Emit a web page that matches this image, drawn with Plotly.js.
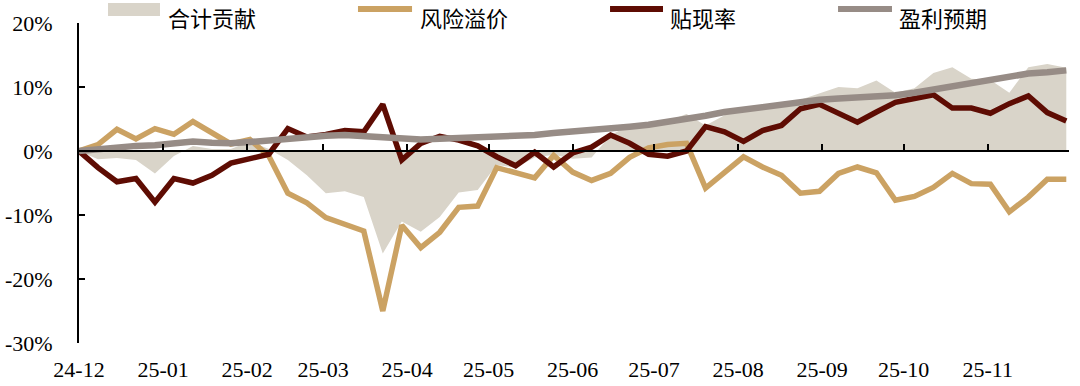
<!DOCTYPE html>
<html>
<head>
<meta charset="utf-8">
<script src="https://cdn.plot.ly/plotly-3.0.1.min.js"></script>
<style>html,body{margin:0;padding:0;background:#fff}#chart{width:1080px;height:386px}</style>
</head>
<body>
<div id="chart"></div>
<script>
// Weekly observation dates
const weeks = [
 '2024-12-01','2024-12-08','2024-12-15','2024-12-22','2024-12-29',
 '2025-01-05','2025-01-12','2025-01-19','2025-01-26','2025-02-02',
 '2025-02-09','2025-02-16','2025-02-23','2025-03-02','2025-03-09',
 '2025-03-16','2025-03-23','2025-03-30','2025-04-06','2025-04-13',
 '2025-04-20','2025-04-27','2025-05-04','2025-05-11','2025-05-18',
 '2025-05-25','2025-06-01','2025-06-08','2025-06-15','2025-06-22',
 '2025-06-29','2025-07-06','2025-07-13','2025-07-20','2025-07-27',
 '2025-08-03','2025-08-10','2025-08-17','2025-08-24','2025-08-31',
 '2025-09-07','2025-09-14','2025-09-21','2025-09-28','2025-10-05',
 '2025-10-12','2025-10-19','2025-10-26','2025-11-02','2025-11-09',
 '2025-11-16','2025-11-23','2025-11-30'
];

// 合计贡献 (%)
const totalContribution = [
 0, -1.3, -1.1, -1.4, -3.5, -0.8, 0.8, 0.3, 0.3, 1.5,
 0.3, -1.4, -3.8, -6.6, -6.3, -7.2, -16.0, -11.0, -12.6, -10.3,
 -6.5, -6.1, -2.2, -2.6, -1.0, -0.6, -1.2, -1.0, 2.5, 4.0,
 4.1, 4.7, 5.8, 4.0, 5.6, 6.8, 7.0, 7.0, 8.0, 9.0,
 10.0, 9.8, 11.0, 9.1, 9.8, 12.2, 13.1, 11.3, 11.1, 9.1,
 13.1, 13.6, 13.0
];

// 风险溢价 (%)
const riskPremium = [
 0, 1.0, 3.4, 1.9, 3.5, 2.6, 4.6, 2.9, 1.1, 1.8,
 -0.8, -6.6, -8.1, -10.4, -11.5, -12.5, -25.0, -11.6, -15.1, -12.7,
 -8.8, -8.6, -2.6, -3.3, -4.2, -0.7, -3.3, -4.6, -3.5, -1.0,
 0.5, 1.0, 1.2, -5.8, -3.3, -0.9, -2.5, -3.8, -6.6, -6.3,
 -3.5, -2.5, -3.4, -7.7, -7.1, -5.7, -3.5, -5.1, -5.2, -9.5,
 -7.2, -4.4, -4.4
];

// 贴现率 (%)
const discountRate = [
 0, -2.6, -4.8, -4.3, -8.0, -4.3, -5.0, -3.8, -1.9, -1.2,
 -0.5, 3.5, 2.2, 2.6, 3.2, 3.0, 7.3, -1.4, 1.2, 2.3,
 1.7, 0.8, -0.9, -2.3, -0.2, -2.5, -0.3, 0.6, 2.5, 1.2,
 -0.5, -0.8, 0.0, 3.8, 3.0, 1.5, 3.2, 4.0, 6.6, 7.3,
 5.8, 4.5, 6.1, 7.6, 8.2, 8.8, 6.7, 6.7, 5.9, 7.4,
 8.6, 6.0, 4.7
];

// 盈利预期 (%)
const earningsExpectation = [
 0, 0.3, 0.6, 0.8, 0.9, 1.2, 1.5, 1.3, 1.2, 1.4,
 1.7, 2.0, 2.2, 2.4, 2.5, 2.3, 2.2, 1.8, 1.8, 1.9,
 2.0, 2.1, 2.2, 2.3, 2.5, 2.8, 3.0, 3.3, 3.5, 3.8,
 4.1, 4.5, 5.0, 5.5, 6.1, 6.5, 6.9, 7.2, 7.6, 8.0,
 8.2, 8.3, 8.5, 8.7, 9.1, 9.6, 10.2, 10.7, 11.1, 11.6,
 12.1, 12.3, 12.6
];

const seriesNames = ['合计贡献', '风险溢价', '贴现率', '盈利预期'];
const monthTickVals = ['2024-12-01','2025-01-01','2025-02-01','2025-03-01','2025-04-01','2025-05-01',
  '2025-06-01','2025-07-01','2025-08-01','2025-09-01','2025-10-01','2025-11-01','2025-12-01'];
const monthTickText = ['24-12','25-01','25-02','25-03','25-04','25-05','25-06','25-07','25-08','25-09','25-10','25-11',''];
const yTickVals = [-30, -20, -10, 0, 10, 20];
const yTickText = ['-30%', '-20%', '-10%', '0%', '10%', '20%'];

const C_AREA = '#D9D4C9';
const C_TAN = '#CBA263';
const C_BROWN = '#5E0C03';
const C_GRAY = '#978C86';

const traces = [
  {x: weeks, y: totalContribution, name: seriesNames[0], type: 'scatter', mode: 'lines',
   fill: 'tozeroy', fillcolor: C_AREA, line: {width: 0, color: C_AREA}},
  {x: weeks, y: riskPremium, name: seriesNames[1], type: 'scatter', mode: 'lines',
   line: {width: 5.5, color: C_TAN}},
  {x: weeks, y: discountRate, name: seriesNames[2], type: 'scatter', mode: 'lines',
   line: {width: 5.5, color: C_BROWN}},
  {x: weeks, y: earningsExpectation, name: seriesNames[3], type: 'scatter', mode: 'lines',
   line: {width: 6.5, color: C_GRAY}}
];

// Legend drawn in paper coordinates
const legendFont = {family: '"Noto Sans CJK SC", "Noto Sans", sans-serif', size: 22, color: '#000'};
const lgTextX = [0.0879, 0.3424, 0.5949, 0.8263];
const lgY = 1.019;
const annotations = seriesNames.map((n, i) => ({
  xref: 'paper', yref: 'paper', x: lgTextX[i], y: lgY, xanchor: 'left', yanchor: 'middle',
  text: n, showarrow: false, font: legendFont
}));
const shapes = [
  {type: 'rect', xref: 'paper', yref: 'paper', x0: 0.0293, x1: 0.0818, y0: 1.022, y1: 1.0625,
   fillcolor: C_AREA, line: {width: 0}},
  {type: 'line', xref: 'paper', yref: 'paper', x0: 0.2818, x1: 0.3364, y0: 1.044, y1: 1.044,
   line: {width: 6, color: C_TAN}},
  {type: 'line', xref: 'paper', yref: 'paper', x0: 0.5364, x1: 0.5899, y0: 1.044, y1: 1.044,
   line: {width: 6, color: C_BROWN}},
  {type: 'line', xref: 'paper', yref: 'paper', x0: 0.7667, x1: 0.8212, y0: 1.044, y1: 1.044,
   line: {width: 6, color: C_GRAY}}
];

const tickFont = {family: '"Liberation Serif", "Times New Roman", serif', size: 22, color: '#000'};

const layout = {
  width: 1080, height: 386,
  margin: {l: 79, r: 11, t: 23, b: 43, pad: 0},
  paper_bgcolor: '#fff', plot_bgcolor: '#fff',
  showlegend: false,
  xaxis: {
    type: 'date', range: ['2024-12-01', '2025-12-01'],
    anchor: 'free', position: 0.6,
    tickvals: monthTickVals, ticktext: monthTickText,
    ticks: 'inside', ticklen: 6, tickwidth: 2, tickcolor: '#000',
    showline: true, linecolor: '#000', linewidth: 2,
    showgrid: false, zeroline: false,
    tickfont: tickFont, ticklabelstandoff: 199
  },
  yaxis: {
    range: [-30, 20], tickvals: yTickVals, ticktext: yTickText,
    ticks: 'inside', ticklen: 6, tickwidth: 2, tickcolor: '#000',
    showline: true, linecolor: '#000', linewidth: 2,
    showgrid: false, zeroline: false,
    tickfont: tickFont, ticklabelstandoff: 20
  },
  annotations: annotations,
  shapes: shapes
};

Plotly.newPlot('chart', traces, layout, {staticPlot: true, displayModeBar: false});
</script>
</body>
</html>
